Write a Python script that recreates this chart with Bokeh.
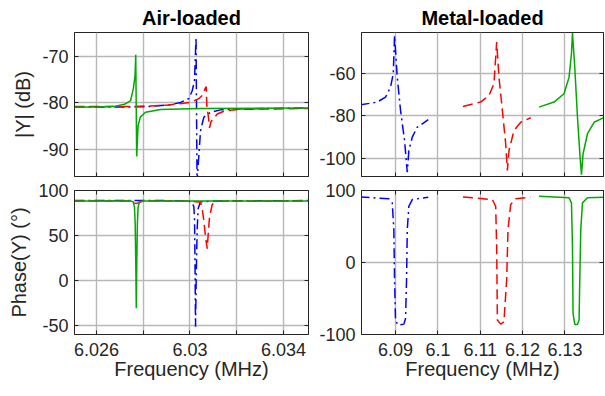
from bokeh.plotting import figure
from bokeh.models import Range1d, FixedTicker, LinearAxis, CustomJSTickFormatter
from bokeh.layouts import column, row
from bokeh.embed import file_html
from bokeh.resources import INLINE

FONT = "Liberation Sans"
GRID = "#b8b8b8"
AX = "#262626"
BLUE = "#0000ff"
RED = "#ff0000"
GREEN = "#00aa00"

# ---------------- data ----------------
# Air-loaded |Y| (dB)
air_mag_blue_f = [6.02506, 6.0270, 6.0282, 6.02917, 6.029595, 6.02995, 6.030096, 6.030194,
                  6.030259, 6.030302, 6.030451, 6.030592, 6.030879, 6.031307, 6.032022, 6.03507]
air_mag_blue_db = [-80.9, -80.9, -80.8, -80.4, -79.9, -79.1, -77.4, -75.2,
                   -65.9, -97.0, -86.0, -83.1, -82.0, -81.5, -81.3, -81.1]
air_mag_red_f = [6.02506, 6.0275, 6.0290, 6.030023, 6.030378, 6.030524, 6.030644, 6.030695,
                 6.03072, 6.03080, 6.030836, 6.03090, 6.031166, 6.031448, 6.032022, 6.03507]
air_mag_red_db = [-80.8, -80.8, -80.5, -79.9, -79.1, -78.4, -77.0, -76.5,
                  -80.5, -83.5, -85.4, -84.0, -82.4, -81.8, -81.4, -81.2]
air_mag_green_f = [6.02506, 6.0262, 6.0268, 6.0272, 6.02746, 6.02758, 6.02765, 6.02768,
                   6.02772, 6.02778, 6.02788, 6.0281, 6.02874, 6.03045, 6.03507]
air_mag_green_db = [-80.9, -80.9, -80.7, -80.3, -79.5, -76.9, -74.1, -69.7,
                    -91.5, -84.9, -83.0, -82.0, -81.4, -81.2, -81.1]

# Air-loaded phase (deg)
air_ph_blue_f = [6.02506, 6.0290, 6.02995, 6.030096, 6.030165, 6.030194, 6.030215, 6.030237,
                 6.030265, 6.03029, 6.03031, 6.03035, 6.030451, 6.0312, 6.03507]
air_ph_blue_deg = [88.8, 88.8, 88.3, 86.5, 82.0, 70.0, 20.0, -51.0,
                   0.0, 35.0, 58.0, 80.0, 87.5, 88.5, 88.8]
air_ph_red_f = [6.02506, 6.0274, 6.0277, 6.0280, 6.0300, 6.03045, 6.030524, 6.030592,
                6.030665, 6.030738, 6.030781, 6.030836, 6.030952, 6.031093, 6.0320, 6.03507]
air_ph_red_deg = [88.3, 88.3, 85.5, 88.3, 88.3, 87.0, 79.7, 66.8,
                  48.4, 35.5, 52.1, 70.5, 84.5, 88.0, 88.3, 88.5]
air_ph_green_f = [6.02506, 6.0270, 6.02745, 6.027571, 6.027626, 6.027656, 6.027682, 6.027703,
                  6.027724, 6.02775, 6.02778, 6.02784, 6.0280, 6.0300, 6.03507]
air_ph_green_deg = [88.5, 88.5, 88.3, 87.5, 81.5, 63.5, 19.3, -30.5,
                    19.0, 63.0, 81.5, 87.5, 88.3, 88.5, 88.5]

# Metal-loaded |Y| (dB)
met_mag_blue_f = [6.0815, 6.085674, 6.087636, 6.088818, 6.089456, 6.089764, 6.090402, 6.091182,
                  6.092128, 6.092766, 6.093144, 6.093948, 6.09513, 6.09773]
met_mag_blue_db = [-75.0, -73.6, -71.3, -66.6, -60.3, -42.3, -61.9, -77.6,
                   -91.7, -106.6, -96.4, -90.1, -85.4, -81.9]
met_mag_red_f = [6.10591, 6.110094, 6.112056, 6.113238, 6.113876, 6.11442, 6.115224, 6.116004,
                 6.116406, 6.116784, 6.117966, 6.11955, 6.121914]
met_mag_red_db = [-75.7, -73.6, -70.5, -65.0, -45.4, -61.9, -77.6, -93.2,
                  -105.8, -96.4, -87.0, -83.1, -81.0]
met_mag_green_f = [6.123876, 6.127422, 6.129786, 6.130968, 6.131535, 6.131772, 6.132316, 6.132954,
                   6.133569, 6.1339, 6.134278, 6.135318, 6.136878, 6.1395]
met_mag_green_db = [-76.0, -73.6, -69.7, -61.9, -50.9, -41.0, -57.2, -80.7,
                    -99.5, -107.7, -97.9, -88.5, -83.1, -80.6]

# Metal-loaded phase (deg)
met_ph_blue_f = [6.0815, 6.088416, 6.08922, 6.089598, 6.089764, 6.09, 6.090544, 6.091962,
                 6.092364, 6.0926, 6.092766, 6.093144, 6.093948, 6.09773]
met_ph_blue_deg = [91.2, 88.4, 82.8, 45.6, -24.2, -80.0, -87.0, -85.6,
                   -77.7, -24.2, 45.6, 78.1, 87.4, 90.7]
met_ph_red_f = [6.10591, 6.11286, 6.11364, 6.113876, 6.114042, 6.114822, 6.115602, 6.115768,
                6.11624, 6.116548, 6.117186, 6.11837, 6.121914]
met_ph_red_deg = [91.0, 87.4, 78.1, 22.3, -80.0, -85.6, -82.4, -66.0,
                  -24.2, 45.6, 80.5, 88.4, 90.7]
met_ph_green_f = [6.123876, 6.130968, 6.131535, 6.131772, 6.131914, 6.132316, 6.132954, 6.133332,
                  6.133498, 6.133734, 6.134136, 6.135318, 6.1395]
met_ph_green_deg = [92.0, 89.8, 82.8, 22.3, -70.7, -86.0, -86.0, -80.0,
                    -24.2, 45.6, 82.8, 89.8, 90.7]

# axes
air_xticks = [6.026, 6.03, 6.034]
air_xminor = [6.028, 6.032]
met_xticks = [6.09, 6.10, 6.11, 6.12, 6.13]
air_mag_yticks = [-90, -80, -70]
met_mag_yticks = [-100, -80, -60]
air_ph_yticks = [-50, 0, 50, 100]
met_ph_yticks = [-100, 0, 100]

FMT_CODE = "return String(parseFloat(tick.toFixed(4)));"


def hidden_axis(ticker):
    ax = LinearAxis(ticker=ticker, formatter=CustomJSTickFormatter(code="return '';"))
    ax.major_label_text_font_size = "0px"
    ax.major_label_standoff = 0
    ax.major_tick_in = 4
    ax.major_tick_out = 0
    ax.minor_tick_in = 4
    ax.minor_tick_out = 0
    ax.axis_line_color = AX
    ax.major_tick_line_color = AX
    ax.minor_tick_line_color = AX
    return ax


def make_fig(width, height, xr, yr, xt, xm, yt, title=None, ylabel=None, xlabel=None,
             bl=0, br=0, bt=0, bb=0):
    p = figure(width=width, height=height, x_range=Range1d(*xr), y_range=Range1d(*yr),
               output_backend="svg", toolbar_location=None, tools="",
               min_border_left=bl, min_border_right=br, min_border_top=bt, min_border_bottom=bb)
    p.background_fill_color = "white"
    p.border_fill_color = "white"
    p.outline_line_color = AX
    p.outline_line_width = 1
    xtick = FixedTicker(ticks=xt, minor_ticks=xm)
    ytick = FixedTicker(ticks=yt, minor_ticks=[])
    p.xaxis.ticker = xtick
    p.yaxis.ticker = ytick
    p.xgrid.ticker = xtick
    p.ygrid.ticker = ytick
    for g in (p.xgrid, p.ygrid):
        g.grid_line_color = GRID
        g.grid_line_width = 1.4
    p.xgrid.minor_grid_line_color = GRID
    p.xgrid.minor_grid_line_width = 1.4
    for ax in (p.xaxis[0], p.yaxis[0]):
        ax.formatter = CustomJSTickFormatter(code=FMT_CODE)
        ax.major_tick_in = 4
        ax.major_tick_out = 0
        ax.minor_tick_in = 4
        ax.minor_tick_out = 0
        ax.axis_line_color = AX
        ax.major_tick_line_color = AX
        ax.minor_tick_line_color = AX
        ax.major_label_text_font = FONT
        ax.major_label_text_font_size = "18px"
        ax.major_label_text_color = AX
        ax.axis_label_text_font = FONT
        ax.axis_label_text_font_size = "20px"
        ax.axis_label_text_font_style = "normal"
        ax.axis_label_text_color = AX
    p.yaxis.major_label_standoff = 6
    p.yaxis.axis_label_standoff = 5
    p.xaxis.major_label_standoff = 8
    p.xaxis.axis_label_standoff = -1
    if ylabel:
        p.yaxis.axis_label = ylabel
    if xlabel:
        p.xaxis.axis_label = xlabel
    else:
        p.xaxis.major_label_text_font_size = "0px"
        p.xaxis.major_label_standoff = 0
        p.xaxis.formatter = CustomJSTickFormatter(code="return '';")
    p.add_layout(hidden_axis(ytick), "right")
    if title:
        p.title.text = title
        p.title.align = "center"
        p.title.text_font = FONT
        p.title.text_font_size = "20px"
        p.title.text_font_style = "bold"
        p.title.text_color = "black"
        p.title.standoff = 8
    else:
        p.add_layout(hidden_axis(xtick), "above")
    return p


AIR_X = (6.02506, 6.03507)
MET_X = (6.08196, 6.1391)

p1 = make_fig(313, 179, AIR_X, (-95.8, -64.9), air_xticks, air_xminor, air_mag_yticks,
              title="Air-loaded", ylabel="|Y| (dB)", bl=74, br=5, bt=32, bb=3)
p2 = make_fig(292, 179, MET_X, (-108.6, -40.9), met_xticks, [], met_mag_yticks,
              title="Metal-loaded", bl=48, br=2, bt=32, bb=3)
p3 = make_fig(313, 213, AIR_X, (-59.6, 100), air_xticks, air_xminor, air_ph_yticks,
              ylabel="Phase(Y) (°)", xlabel="Frequency (MHz)", bl=74, br=5, bt=11, bb=58)
p4 = make_fig(292, 213, MET_X, (-100, 100), met_xticks, [], met_ph_yticks,
              xlabel="Frequency (MHz)", bl=48, br=2, bt=11, bb=58)

BLUE_DASH = "10 4 2 4"
RED_DASH = "10 5"
LW = 1.5


def draw(p, bf, by, rf, ry, gf, gy):
    p.line(bf, by, line_color=BLUE, line_width=LW, line_dash=BLUE_DASH)
    p.line(rf, ry, line_color=RED, line_width=LW, line_dash=RED_DASH)
    p.line(gf, gy, line_color=GREEN, line_width=LW)


draw(p1, air_mag_blue_f, air_mag_blue_db, air_mag_red_f, air_mag_red_db,
     air_mag_green_f, air_mag_green_db)
draw(p2, met_mag_blue_f, met_mag_blue_db, met_mag_red_f, met_mag_red_db,
     met_mag_green_f, met_mag_green_db)
draw(p3, air_ph_blue_f, air_ph_blue_deg, air_ph_red_f, air_ph_red_deg,
     air_ph_green_f, air_ph_green_deg)
draw(p4, met_ph_blue_f, met_ph_blue_deg, met_ph_red_f, met_ph_red_deg,
     met_ph_green_f, met_ph_green_deg)

layout = column(row(p1, p2), row(p3, p4))
open("out.html", "w").write(file_html(layout, INLINE))
